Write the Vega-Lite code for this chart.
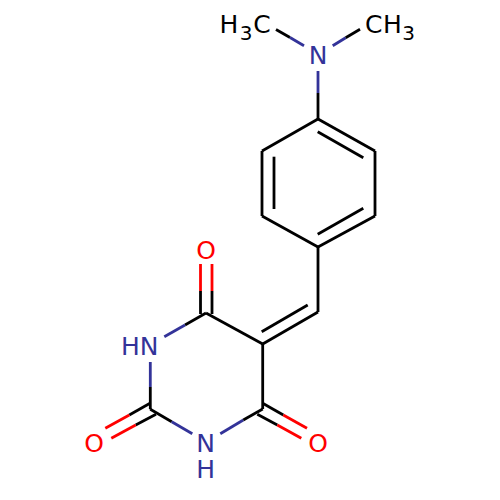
{"$schema":"https://vega.github.io/schema/vega-lite/v6.json","width":500,"height":500,"padding":0,"autosize":"none","background":"white","config":{"view":{"stroke":null}},"datasets":{"bonds":[{"x":318,"y":71,"x2":318,"y2":93,"el":"N"},{"x":318,"y":93,"x2":318,"y2":119,"el":"C"},{"x":276,"y":29.5,"x2":290,"y2":37.5,"el":"C"},{"x":290,"y":37.5,"x2":304,"y2":45.7,"el":"N"},{"x":332.7,"y":45.7,"x2":345.7,"y2":37.7,"el":"N"},{"x":345.7,"y":37.7,"x2":360,"y2":29.3,"el":"C"},{"x":318,"y":119,"x2":375,"y2":151,"el":"C"},{"x":375,"y":151,"x2":375,"y2":216,"el":"C"},{"x":375,"y":216,"x2":318,"y2":247,"el":"C"},{"x":318,"y":247,"x2":262,"y2":216,"el":"C"},{"x":262,"y":216,"x2":262,"y2":151,"el":"C"},{"x":262,"y":151,"x2":318,"y2":119,"el":"C"},{"x":317.7,"y":131.7,"x2":363.3,"y2":157.7,"el":"C"},{"x":363.3,"y":208.3,"x2":317.7,"y2":234.3,"el":"C"},{"x":274,"y":209,"x2":274,"y2":156.7,"el":"C"},{"x":318,"y":247,"x2":318,"y2":312,"el":"C"},{"x":318,"y":312,"x2":262.7,"y2":344,"el":"C"},{"x":261.7,"y":331.7,"x2":307.7,"y2":305,"el":"C"},{"x":262.7,"y":344,"x2":206,"y2":313,"el":"C"},{"x":200.5,"y":314,"x2":200.5,"y2":291,"el":"C"},{"x":200.5,"y":291,"x2":200.5,"y2":264,"el":"O"},{"x":212,"y":314,"x2":212,"y2":291,"el":"C"},{"x":212,"y":291,"x2":212,"y2":264,"el":"O"},{"x":206,"y":313,"x2":185,"y2":325,"el":"C"},{"x":185,"y":325,"x2":164.3,"y2":336.7,"el":"N"},{"x":150.3,"y":362,"x2":150.3,"y2":387,"el":"N"},{"x":150.3,"y":387,"x2":150.3,"y2":409.3,"el":"C"},{"x":150.3,"y":409.3,"x2":171.7,"y2":421.7,"el":"C"},{"x":171.7,"y":421.7,"x2":192.3,"y2":433.7,"el":"N"},{"x":220.3,"y":433.7,"x2":243.3,"y2":420,"el":"N"},{"x":243.3,"y":420,"x2":262.7,"y2":409,"el":"C"},{"x":262.7,"y":344,"x2":262.7,"y2":409,"el":"C"},{"x":150,"y":403.3,"x2":129.3,"y2":415,"el":"C"},{"x":129.3,"y":415,"x2":105.3,"y2":428.3,"el":"O"},{"x":156,"y":414.3,"x2":135.7,"y2":425,"el":"C"},{"x":135.7,"y":425,"x2":111.3,"y2":438.3,"el":"O"},{"x":262.7,"y":403.3,"x2":283.3,"y2":415,"el":"C"},{"x":283.3,"y":415,"x2":307,"y2":428.3,"el":"O"},{"x":257.3,"y":414.3,"x2":277.3,"y2":425,"el":"C"},{"x":277.3,"y":425,"x2":301.3,"y2":438.3,"el":"O"}],"labels":[{"x":318,"y":56.4,"t":"N","el":"N"},{"x":206,"y":250.5,"t":"O","el":"O"},{"x":94,"y":444,"t":"O","el":"O"},{"x":318,"y":444,"t":"O","el":"O"},{"x":139.8,"y":347,"t":"HN","el":"N"},{"x":205.7,"y":444,"t":"N","el":"N"},{"x":205.7,"y":469.5,"t":"H","el":"N"},{"x":229,"y":24.5,"t":"H","el":"C"},{"x":262,"y":24.5,"t":"C","el":"C"},{"x":373.7,"y":24.5,"t":"C","el":"C"},{"x":392.5,"y":24.5,"t":"H","el":"C"}],"subs":[{"x":246,"y":34.3,"t":"3","el":"C"},{"x":408.7,"y":34.3,"t":"3","el":"C"}]},"layer":[{"data":{"name":"bonds"},"mark":{"type":"rule","strokeWidth":2.8,"strokeCap":"butt"},"encoding":{"x":{"field":"x","type":"quantitative","scale":{"domain":[0,500],"range":[0,500],"nice":false,"zero":false},"axis":null},"y":{"field":"y","type":"quantitative","scale":{"domain":[0,500],"range":[0,500],"nice":false,"zero":false},"axis":null},"x2":{"field":"x2"},"y2":{"field":"y2"},"color":{"field":"el","type":"nominal","legend":null,"scale":{"domain":["N","C","O"],"range":["#333399","#000000","#FF0000"]}}}},{"data":{"name":"labels"},"mark":{"type":"text","font":"DejaVu Sans","fontSize":25,"align":"center","baseline":"middle"},"encoding":{"x":{"field":"x","type":"quantitative","scale":{"domain":[0,500],"range":[0,500],"nice":false,"zero":false},"axis":null},"y":{"field":"y","type":"quantitative","scale":{"domain":[0,500],"range":[0,500],"nice":false,"zero":false},"axis":null},"text":{"field":"t"},"color":{"field":"el","type":"nominal","legend":null,"scale":{"domain":["N","C","O"],"range":["#333399","#000000","#FF0000"]}}}},{"data":{"name":"subs"},"mark":{"type":"text","font":"DejaVu Sans","fontSize":20,"align":"center","baseline":"middle"},"encoding":{"x":{"field":"x","type":"quantitative","scale":{"domain":[0,500],"range":[0,500],"nice":false,"zero":false},"axis":null},"y":{"field":"y","type":"quantitative","scale":{"domain":[0,500],"range":[0,500],"nice":false,"zero":false},"axis":null},"text":{"field":"t"},"color":{"field":"el","type":"nominal","legend":null,"scale":{"domain":["N","C","O"],"range":["#333399","#000000","#FF0000"]}}}}]}
